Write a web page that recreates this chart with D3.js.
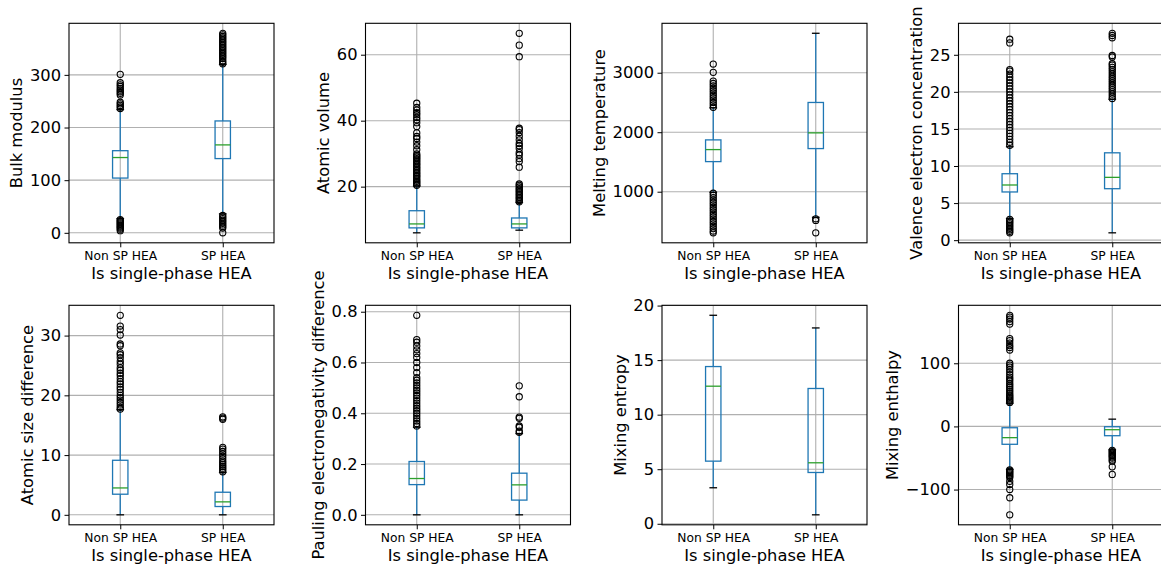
<!DOCTYPE html>
<html>
<head>
<meta charset="utf-8">
<script src="https://cdn.jsdelivr.net/npm/d3@7"></script>
<style>
  body { margin: 0; background: #fff; }
  svg { display: block; }
  text { font-family: "DejaVu Sans", sans-serif; }
</style>
</head>
<body>
<script>
const categories = ["Non SP HEA", "SP HEA"];
const xTitle = "Is single-phase HEA";

// boxes: [lower whisker, Q1, median, Q3, upper whisker] for Non SP HEA and SP HEA
const bulkBoxes = [[27, 104, 143, 156, 234], [36, 141, 167, 212.5, 320]];
const bulkFliers = [
    [4, 7, 9, 11, 13, 15, 17, 19, 21, 23, 25, 236, 239, 242, 245, 248, 262, 265, 268, 271, 274, 278, 281, 285, 301],
    [0, 9, 12, 15, 18, 21, 24, 27, 30, 33, 321, 324, 327, 331, 334, 337, 340, 343, 346, 349, 352, 355, 358, 361, 364, 367, 370, 373, 376, 379]
];
const bulkTicks = [0, 100, 200, 300];

const volumeBoxes = [[6.0, 7.5, 8.7, 12.7, 20.2], [6.8, 7.5, 8.7, 10.5, 15.2]];
const volumeFliers = [
    [20.4, 20.8, 21.2, 21.6, 22.0, 22.5, 23.0, 23.4, 23.9, 24.3, 24.8, 25.3, 25.7, 26.2, 26.7, 27.1, 27.6, 28.1, 28.5,
     29.0, 29.4, 29.9, 31.2, 32.4, 33.5, 34.6, 35.2, 36.3, 38.2, 39.4, 40.3, 41.0, 41.8, 42.4, 43.2, 44.0, 45.3],
    [15.4, 15.8, 16.3, 16.7, 17.2, 17.6, 18.1, 18.5, 19.0, 19.4, 19.9, 20.4, 20.8, 25.9, 27.6, 28.5, 29.6, 30.3, 31.6,
     32.4, 33.1, 34.2, 35.3, 36.4, 37.3, 37.7, 59.4, 62.9, 66.5]
];
const volumeTicks = [20, 40, 60];

const meltBoxes = [[990, 1506, 1708, 1871, 2410], [570, 1725, 1989, 2500, 3663]];
const meltFliers = [
    [309, 340, 380, 420, 460, 500, 540, 580, 620, 660, 700, 740, 780, 820, 860, 900, 940, 975,
     2420, 2460, 2500, 2540, 2580, 2620, 2660, 2700, 2740, 2780, 2820, 2860, 3006, 3146],
    [309, 517, 545]
];
const meltTicks = [1000, 2000, 3000];

const vecBoxes = [[2.9, 6.5, 7.44, 8.96, 12.6], [0.99, 6.94, 8.47, 11.78, 19.0]];
const vecFliers = [
    [0.99, 1.2, 1.4, 1.6, 1.8, 2.0, 2.2, 2.4, 2.6, 2.8, 12.8, 13.2, 13.6, 14.0, 14.4, 14.8, 15.2, 15.6, 16.0, 16.4,
     16.8, 17.2, 17.6, 18.0, 18.4, 18.8, 19.2, 19.6, 20.0, 20.4, 20.8, 21.2, 21.6, 22.0, 22.4, 22.8, 23.0, 26.6, 27.1],
    [19.1, 19.4, 19.7, 20.0, 20.3, 20.6, 20.9, 21.2, 21.5, 21.8, 22.1, 22.4, 22.7, 23.0, 23.3, 23.6, 23.8, 24.7, 24.9,
     27.3, 27.6, 27.9]
];
const vecTicks = [0, 5, 10, 15, 20, 25];

const sizeBoxes = [[0, 3.45, 4.5, 9.13, 17.6], [0, 1.39, 2.17, 3.78, 7.1]];
const sizeFliers = [
    [17.7, 18.0, 18.4, 18.8, 19.2, 19.6, 20.0, 20.5, 21.0, 21.4, 21.9, 22.3, 22.8, 23.3, 23.7, 24.2, 24.6, 25.2, 25.7,
     26.3, 26.8, 27.1, 28.3, 28.6, 30.1, 31.0, 31.6, 33.4],
    [7.2, 7.5, 7.8, 8.1, 8.4, 8.7, 9.0, 9.4, 9.8, 10.2, 10.6, 11.0, 11.3, 16.0, 16.2, 16.4]
];
const sizeTicks = [0, 10, 20, 30];

const paulingBoxes = [[0, 0.119, 0.143, 0.21, 0.345], [0, 0.058, 0.118, 0.164, 0.32]];
const paulingFliers = [
    [0.35, 0.36, 0.37, 0.38, 0.39, 0.40, 0.41, 0.42, 0.43, 0.44, 0.45, 0.46, 0.47, 0.48, 0.49, 0.50, 0.51, 0.52, 0.53,
     0.54, 0.56, 0.58, 0.60, 0.62, 0.635, 0.65, 0.665, 0.68, 0.69, 0.786],
    [0.325, 0.33, 0.345, 0.35, 0.38, 0.385, 0.465, 0.508]
];
const paulingTicks = [0, 0.2, 0.4, 0.6, 0.8];

const entropyBoxes = [[3.30, 5.74, 12.61, 14.41, 19.11], [0.82, 4.70, 5.59, 12.4, 17.95]];
const entropyFliers = [[], []];
const entropyTicks = [0, 5, 10, 15, 20];

const enthalpyBoxes = [[-68, -28.3, -17.8, -2.1, 36.7], [-37, -14.7, -5.2, -0.5, 11.5]];
const enthalpyFliers = [
    [-140, -113, -100, -92, -87, -81, -79, -77, -75, -73, -71, -69, 38, 40, 42, 44, 46, 48, 50, 53, 56, 59, 62, 65, 68,
     72, 75, 78, 82, 86, 90, 94, 97, 100, 121, 125, 128, 132, 136, 139, 162, 166, 170, 173, 176],
    [-76, -64, -55, -53, -50, -48, -46, -44, -42, -40, -38]
];
const enthalpyTicks = [-100, 0, 100];

const panels = [
    { title: "Bulk modulus", boxes: bulkBoxes, fliers: bulkFliers, ticks: bulkTicks, fmt: "d" },
    { title: "Atomic volume", boxes: volumeBoxes, fliers: volumeFliers, ticks: volumeTicks, fmt: "d" },
    { title: "Melting temperature", boxes: meltBoxes, fliers: meltFliers, ticks: meltTicks, fmt: "d" },
    { title: "Valence electron concentration", boxes: vecBoxes, fliers: vecFliers, ticks: vecTicks, fmt: "d" },
    { title: "Atomic size difference", boxes: sizeBoxes, fliers: sizeFliers, ticks: sizeTicks, fmt: "d" },
    { title: "Pauling electronegativity difference", boxes: paulingBoxes, fliers: paulingFliers, ticks: paulingTicks, fmt: ".1f" },
    { title: "Mixing entropy", boxes: entropyBoxes, fliers: entropyFliers, ticks: entropyTicks, fmt: "d" },
    { title: "Mixing enthalpy", boxes: enthalpyBoxes, fliers: enthalpyFliers, ticks: enthalpyTicks, fmt: "d" }
];

const W = 1161, H = 567;
const panelW = 205, panelH = 219.5;
const left0 = 69, colStep = 296.5, top0 = 23.3, rowStep = 282;
const boxColor = "#1f77b4", medianColor = "#2ca02c", gridColor = "#b0b0b0";

const svg = d3.select("body").append("svg")
    .attr("width", W)
    .attr("height", H);

panels.forEach((p, i) => {
    const col = i % 4, row = Math.floor(i / 4);
    const g = svg.append("g")
        .attr("transform", `translate(${left0 + col * colStep}, ${top0 + row * rowStep})`);

    const all = p.boxes.flat().concat(p.fliers.flat());
    const lo = d3.min(all), hi = d3.max(all), pad = (hi - lo) * 0.05;

    const x = d3.scaleLinear().domain([0.5, 2.5]).range([0, panelW]);
    const y = d3.scaleLinear().domain([lo - pad, hi + pad]).range([panelH, 0]);
    const half = x(1.075) - x(1);
    const capHalf = x(1.0375) - x(1);

    // grid
    g.selectAll(".hgrid")
        .data(p.ticks)
        .join("line")
        .attr("class", "hgrid")
        .attr("x1", 0).attr("x2", panelW)
        .attr("y1", d => y(d)).attr("y2", d => y(d))
        .attr("stroke", gridColor).attr("stroke-width", 1.1);

    g.selectAll(".vgrid")
        .data([1, 2])
        .join("line")
        .attr("class", "vgrid")
        .attr("x1", d => x(d)).attr("x2", d => x(d))
        .attr("y1", 0).attr("y2", panelH)
        .attr("stroke", gridColor).attr("stroke-width", 1.1);

    const box = g.selectAll(".box")
        .data(p.boxes)
        .join("g")
        .attr("class", "box")
        .attr("transform", (d, k) => `translate(${x(k + 1)}, 0)`);

    // whiskers
    box.append("line")
        .attr("y1", d => y(d[1])).attr("y2", d => y(d[0]))
        .attr("stroke", boxColor).attr("stroke-width", 1.3);
    box.append("line")
        .attr("y1", d => y(d[3])).attr("y2", d => y(d[4]))
        .attr("stroke", boxColor).attr("stroke-width", 1.3);

    // caps
    box.selectAll(".cap")
        .data(d => [d[0], d[4]])
        .join("line")
        .attr("class", "cap")
        .attr("x1", -capHalf).attr("x2", capHalf)
        .attr("y1", d => y(d)).attr("y2", d => y(d))
        .attr("stroke", "#000").attr("stroke-width", 1.3);

    box.append("rect")
        .attr("x", -half)
        .attr("width", half * 2)
        .attr("y", d => y(d[3]))
        .attr("height", d => y(d[1]) - y(d[3]))
        .attr("fill", "none")
        .attr("stroke", boxColor).attr("stroke-width", 1.3);

    box.append("line")
        .attr("x1", -half).attr("x2", half)
        .attr("y1", d => y(d[2])).attr("y2", d => y(d[2]))
        .attr("stroke", medianColor).attr("stroke-width", 1.3);

    // fliers
    p.fliers.forEach((vals, k) => {
        g.selectAll(`.flier${k}`)
            .data(vals)
            .join("circle")
            .attr("class", `flier${k}`)
            .attr("cx", x(k + 1))
            .attr("cy", d => y(d))
            .attr("r", 3.1)
            .attr("fill", "none")
            .attr("stroke", "#000")
            .attr("stroke-width", 1.1);
    });

    // spines
    g.append("rect")
        .attr("width", panelW).attr("height", panelH)
        .attr("fill", "none")
        .attr("stroke", "#000")
        .attr("stroke-width", 1.1);

    const yAxis = g.append("g")
        .call(d3.axisLeft(y).tickValues(p.ticks).tickFormat(d3.format(p.fmt)).tickSize(4.5).tickPadding(3.5))
        .call(a => a.select(".domain").remove())
        .attr("font-family", null)
        .attr("font-size", 16.3);
    yAxis.selectAll("text").attr("fill", "#000");

    g.append("g")
        .attr("transform", `translate(0, ${panelH})`)
        .call(d3.axisBottom(x).tickValues([1, 2]).tickFormat(d => categories[d - 1]).tickSize(4.5).tickPadding(3.5))
        .call(a => a.select(".domain").remove())
        .attr("font-family", null)
        .attr("font-size", 12.3);

    const bb = yAxis.node().getBBox();
    g.append("text")
        .attr("transform", `translate(${bb.x - 7.7}, ${panelH / 2}) rotate(-90)`)
        .attr("text-anchor", "middle")
        .attr("font-size", 16.3)
        .text(p.title);

    g.append("text")
        .attr("x", panelW / 2)
        .attr("y", panelH + 36.5)
        .attr("text-anchor", "middle")
        .attr("font-size", 16.3)
        .text(xTitle);
});
</script>
</body>
</html>
